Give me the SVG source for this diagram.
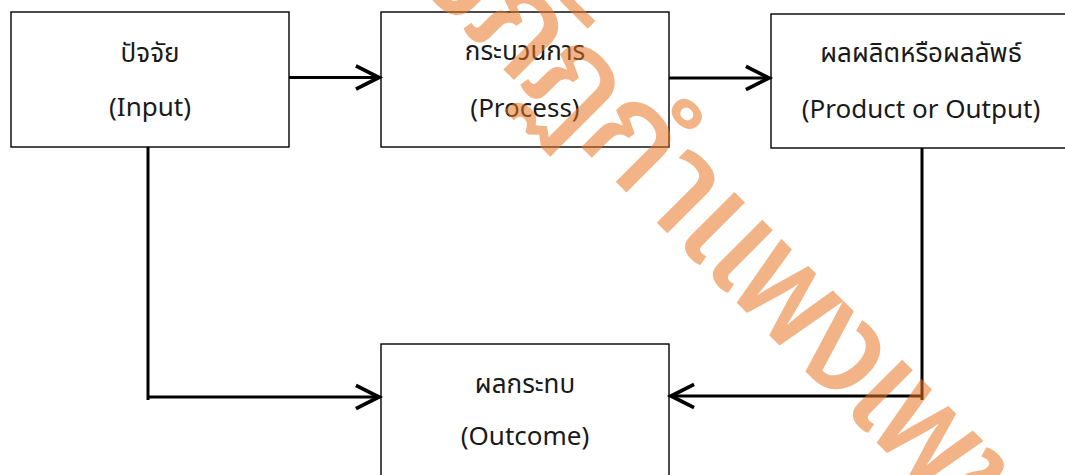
<svg xmlns="http://www.w3.org/2000/svg" width="1065" height="475" viewBox="0 0 1065 475">
<style>
.box{fill:#fff;stroke:#000;stroke-width:1.4}
.lbl{font-family:"Noto Sans Thai","Leelawadee UI","Open Sans","Noto Sans",sans-serif;font-size:26px;fill:#1a1a1a;text-anchor:middle}
.con{fill:none;stroke:#000;stroke-width:3}
.wm{font-family:"Noto Sans Thai","Kanit","Noto Sans",sans-serif;font-size:140px;font-weight:500;fill:#E87722;fill-opacity:0.55;letter-spacing:-6px}
</style>
<defs>
<marker id="arr" markerUnits="userSpaceOnUse" markerWidth="30" markerHeight="30" refX="0" refY="0" viewBox="-22 -13 26 26" orient="auto" overflow="visible">
<path d="M-20,-10 L0,0 L-20,10" fill="none" stroke="#000" stroke-width="3.2" stroke-linejoin="miter"/>
</marker>
</defs>
<rect width="1065" height="475" fill="#fff"/>
<g id="node-input">
<rect class="box" x="11" y="12" width="278" height="135"/>
<text class="lbl" x="150" y="62">ปัจจัย</text>
<text class="lbl" x="150" y="116">(Input)</text>
</g>
<g id="node-process">
<rect class="box" x="381" y="12" width="288" height="135"/>
<text class="lbl" x="525" y="60">กระบวนการ</text>
<text class="lbl" x="525" y="117">(Process)</text>
</g>
<g id="node-output">
<rect class="box" x="771" y="14" width="298" height="134"/>
<text class="lbl" x="921" y="62">ผลผลิตหรือผลลัพธ์</text>
<text class="lbl" x="921" y="118">(Product or Output)</text>
</g>
<g id="node-outcome">
<rect class="box" x="381" y="344" width="288" height="140"/>
<text class="lbl" x="525" y="393">ผลกระทบ</text>
<text class="lbl" x="525" y="445">(Outcome)</text>
</g>
<g id="connectors">
<path class="con" d="M289,77.5 L379,77.5" marker-end="url(#arr)"/>
<path class="con" d="M669,78 L769,78" marker-end="url(#arr)"/>
<path class="con" d="M148,147 L148,400 M148,397 L379,397" marker-end="url(#arr)"/>
<path class="con" d="M922,148 L922,400 M922,396 L671,396" marker-end="url(#arr)"/>
</g>
<g id="watermark" transform="translate(574,140) rotate(45)">
<text class="wm" x="0" y="0" text-anchor="end">มหาวิทยาลัยราชภัฏ</text>
<text class="wm" x="0" y="0" text-anchor="start">กำแพงเพชร</text>
</g>
</svg>
